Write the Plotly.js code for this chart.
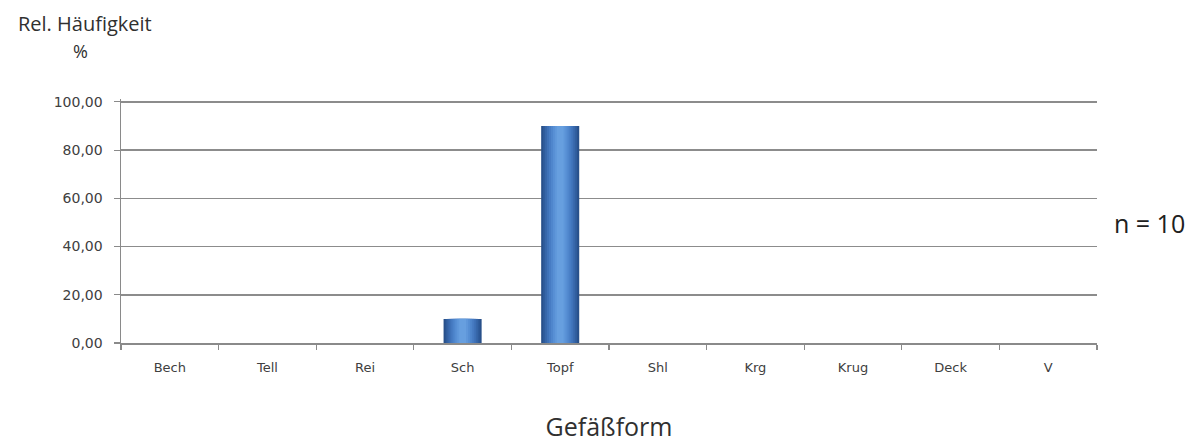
<!DOCTYPE html>
<html>
<head>
<meta charset="utf-8">
<script src="https://cdn.plot.ly/plotly-3.0.1.min.js"></script>
<style>html,body{margin:0;padding:0;background:#fff;}#chart{width:1203px;height:444px;}</style>
</head>
<body>
<div id="chart"></div>
<script>
const categories = ["Bech", "Tell", "Rei", "Sch", "Topf", "Shl", "Krg", "Krug", "Deck", "V"];
const values = [0, 0, 0, 10, 90, 0, 0, 0, 0, 0];
const yTicks = [0, 20, 40, 60, 80, 100];
const sampleLabel = "n = 10";

// cylinder-like shading: stacked overlay layers, same data
const shades = [
  {w: 0.39, c: "#28508a"},
  {w: 0.35, c: "#2f5c9c"},
  {w: 0.31, c: "#3767aa"},
  {w: 0.27, c: "#3f72b8"},
  {w: 0.23, c: "#477cc3"},
  {w: 0.19, c: "#4f86cc"},
  {w: 0.15, c: "#578fd4"},
  {w: 0.11, c: "#5f97da"},
  {w: 0.07, c: "#679fdf"}
];
const traces = shades.map(s => ({
  type: "bar",
  x: categories,
  y: values,
  width: s.w,
  marker: {color: s.c, line: {width: 0}},
  hoverinfo: "x+y",
  showlegend: false
}));

const layout = {
  width: 1203, height: 444,
  margin: {l: 121, r: 106, t: 99, b: 101},
  paper_bgcolor: "#ffffff",
  plot_bgcolor: "#ffffff",
  barmode: "overlay",
  separators: ",.",
  font: {family: "DejaVu Sans, sans-serif", color: "#404040"},
  xaxis: {
    type: "category",
    showline: true, linecolor: "#8a8a8a", linewidth: 1.5,
    ticks: "outside", ticklen: 5, tickcolor: "#8a8a8a", tickwidth: 1.2,
    tickson: "boundaries",
    ticklabelstandoff: 12,
    showgrid: false,
    tickfont: {size: 13, color: "#404040"},
    title: {text: "Gefäßform", font: {family: "Open Sans, sans-serif", size: 25, color: "#303030"}, standoff: 44}
  },
  yaxis: {
    range: [0, 101.2],
    tickvals: yTicks,
    tickformat: ".2f",
    showline: true, linecolor: "#8a8a8a", linewidth: 1.5,
    ticks: "outside", ticklen: 6, tickcolor: "#8a8a8a", tickwidth: 1.2,
    ticklabelstandoff: 8,
    showgrid: true, gridcolor: "#8c8c8c", gridwidth: 1.5,
    zeroline: false,
    tickfont: {size: 14, color: "#404040"}
  },
  annotations: [
    {text: "Rel. Häufigkeit", xref: "paper", yref: "paper", x: -0.037, y: 1.31, xanchor: "center", yanchor: "middle", showarrow: false,
     font: {family: "Open Sans, sans-serif", size: 20, color: "#303030"}},
    {text: "%", xref: "paper", yref: "paper", x: -0.042, y: 1.195, xanchor: "center", yanchor: "middle", showarrow: false,
     font: {family: "Open Sans, sans-serif", size: 18, color: "#303030"}},
    {text: sampleLabel, xref: "paper", yref: "paper", x: 1.015, y: 0.49, xanchor: "left", yanchor: "middle", showarrow: false,
     font: {family: "Open Sans, sans-serif", size: 25, color: "#202020"}}
  ]
};

Plotly.newPlot("chart", traces, layout, {displayModeBar: false, staticPlot: true});
</script>
</body>
</html>
